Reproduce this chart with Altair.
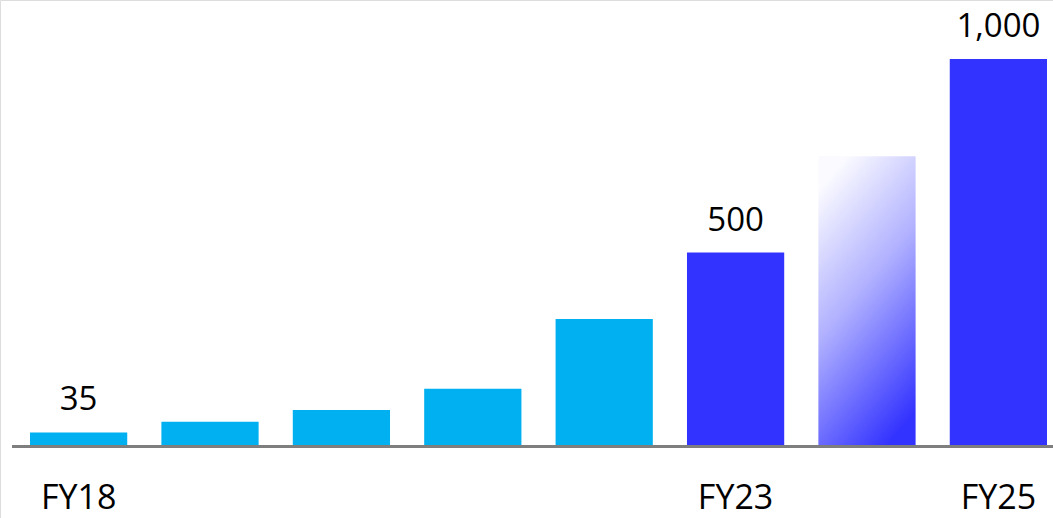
import altair as alt
import pandas as pd

years = ["FY18", "FY19", "FY20", "FY21", "FY22", "FY23", "FY24", "FY25"]
values = [35, 63, 93, 148, 328, 500, 749, 1000]
groups = ["hist", "hist", "hist", "hist", "hist", "plan", "target", "plan"]
value_labels = ["35", "", "", "", "", "500", "", "1,000"]
year_labels = ["FY18", "", "", "", "", "FY23", "", "FY25"]

df = pd.DataFrame({
    "year": years,
    "value": values,
    "group": groups,
    "vlabel": value_labels,
    "ylabel": year_labels,
})

FONT = "Open Sans"

x = alt.X("year:N", sort=years, axis=None,
          scale=alt.Scale(range=[30, 1047], paddingInner=0.26, paddingOuter=0))
y = alt.Y("value:Q", axis=None,
          scale=alt.Scale(domain=[-186, 1152.5], nice=False, zero=False))

base = alt.Chart(df)

bars = base.transform_filter("datum.group != 'target'").mark_bar().encode(
    x=x, y=y, y2=alt.datum(0),
    color=alt.Color("group:N", legend=None,
                    scale=alt.Scale(domain=["hist", "plan"], range=["#00B0F0", "#3333FF"])),
)

grad_bar = base.transform_filter("datum.group == 'target'").mark_bar(
    color=alt.Gradient(
        gradient="linear",
        stops=[alt.GradientStop(color="#FAFAFF", offset=0),
               alt.GradientStop(color="#B0B0FF", offset=0.45),
               alt.GradientStop(color="#3333FF", offset=1)],
        x1=0.3, x2=0.7, y1=0, y2=1,
    )
).encode(x=x, y=y, y2=alt.datum(0))

vlabels = base.mark_text(font=FONT, fontSize=33, baseline="alphabetic", dy=-22,
                         color="#000000").encode(x=x, y=y, text="vlabel:N")

ylabels = base.mark_text(font=FONT, fontSize=34, baseline="alphabetic",
                         color="#000000").encode(x=x, y=alt.value(509), text="ylabel:N")

axis_line = base.mark_rule(color="#7F7F7F", strokeWidth=2).encode(
    x=alt.value(12), x2=alt.value(1053), y=alt.value(446.5))

chart = alt.layer(bars, grad_bar, axis_line, vlabels, ylabels).properties(
    width=1053, height=518,
    autosize=alt.AutoSizeParams(type="none"),
    padding=0,
).configure_view(stroke="transparent", strokeWidth=0).configure(background="white")

chart.save("out.html", embed_options={"renderer": "svg", "actions": False})
